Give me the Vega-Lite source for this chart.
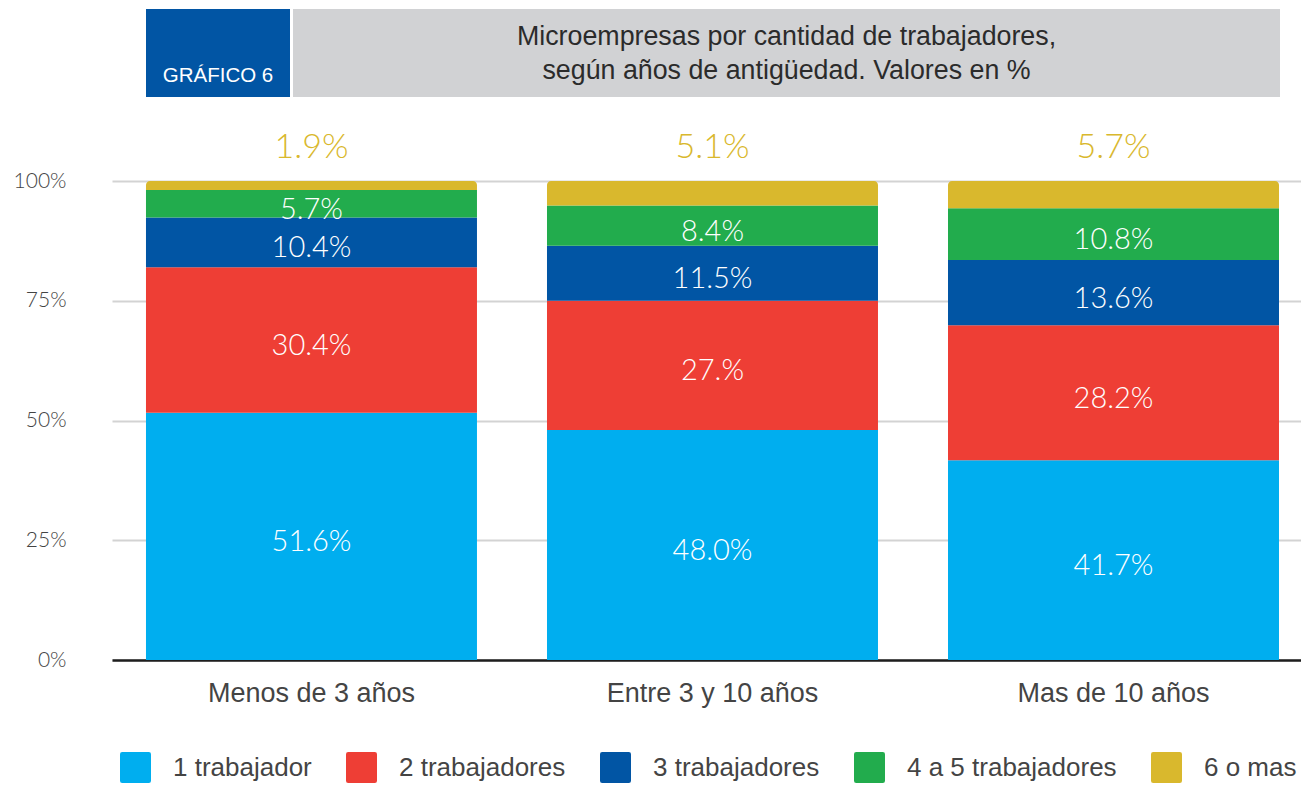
{
  "$schema": "https://vega.github.io/schema/vega-lite/v6.json",
  "background": "white",
  "padding": {"left": 13, "top": 9, "right": 0, "bottom": 0},
  "config": {
    "font": "Liberation Sans",
    "view": {"stroke": null}
  },
  "datasets": {
    "micro": [
      {"antiguedad": "Menos de 3 años", "categoria": "1 trabajador", "orden": 1, "valor": 51.6, "etiqueta": "51.6%"},
      {"antiguedad": "Menos de 3 años", "categoria": "2 trabajadores", "orden": 2, "valor": 30.4, "etiqueta": "30.4%"},
      {"antiguedad": "Menos de 3 años", "categoria": "3 trabajadores", "orden": 3, "valor": 10.4, "etiqueta": "10.4%"},
      {"antiguedad": "Menos de 3 años", "categoria": "4 a 5 trabajadores", "orden": 4, "valor": 5.7, "etiqueta": "5.7%"},
      {"antiguedad": "Menos de 3 años", "categoria": "6 o mas", "orden": 5, "valor": 1.9, "etiqueta": "1.9%"},
      {"antiguedad": "Entre 3 y 10 años", "categoria": "1 trabajador", "orden": 1, "valor": 48.0, "etiqueta": "48.0%"},
      {"antiguedad": "Entre 3 y 10 años", "categoria": "2 trabajadores", "orden": 2, "valor": 27.0, "etiqueta": "27.%"},
      {"antiguedad": "Entre 3 y 10 años", "categoria": "3 trabajadores", "orden": 3, "valor": 11.5, "etiqueta": "11.5%"},
      {"antiguedad": "Entre 3 y 10 años", "categoria": "4 a 5 trabajadores", "orden": 4, "valor": 8.4, "etiqueta": "8.4%"},
      {"antiguedad": "Entre 3 y 10 años", "categoria": "6 o mas", "orden": 5, "valor": 5.1, "etiqueta": "5.1%"},
      {"antiguedad": "Mas de 10 años", "categoria": "1 trabajador", "orden": 1, "valor": 41.7, "etiqueta": "41.7%"},
      {"antiguedad": "Mas de 10 años", "categoria": "2 trabajadores", "orden": 2, "valor": 28.2, "etiqueta": "28.2%"},
      {"antiguedad": "Mas de 10 años", "categoria": "3 trabajadores", "orden": 3, "valor": 13.6, "etiqueta": "13.6%"},
      {"antiguedad": "Mas de 10 años", "categoria": "4 a 5 trabajadores", "orden": 4, "valor": 10.8, "etiqueta": "10.8%"},
      {"antiguedad": "Mas de 10 años", "categoria": "6 o mas", "orden": 5, "valor": 5.7, "etiqueta": "5.7%"}
    ]
  },
  "vconcat": [
    {
      "hconcat": [
        {
          "width": 31, "height": 88,
          "data": {"values": [{"t": ""}]},
          "mark": {"type": "text", "opacity": 0},
          "encoding": {"text": {"field": "t"}}
        },
        {
          "width": 144, "height": 88,
          "view": {"fill": "#0155A4", "stroke": null},
          "data": {"values": [{"t": "GRÁFICO 6"}]},
          "mark": {"type": "text", "color": "white", "fontSize": 20.5, "baseline": "alphabetic", "align": "center", "dy": 29},
          "encoding": {"text": {"field": "t"}}
        },
        {
          "width": 987, "height": 88,
          "view": {"fill": "#D1D2D4", "stroke": null},
          "data": {"values": [{"t": ["Microempresas por cantidad de trabajadores,", "según años de antigüedad. Valores en %"]}]},
          "mark": {"type": "text", "color": "#2b2b2b", "fontSize": 26.8, "baseline": "middle", "align": "center", "lineHeight": 34, "dy": -16},
          "encoding": {"text": {"field": "t"}}
        }
      ],
      "spacing": 3
    },
    {
      "width": 1189,
      "height": 479,
      "data": {"name": "micro"},
      "transform": [
        {"stack": "valor", "groupby": ["antiguedad"], "sort": [{"field": "orden"}], "as": ["v0", "v1"]},
        {"calculate": "(datum.v0 + datum.v1) / 2", "as": "centro"}
      ],
      "encoding": {
        "x": {
          "field": "antiguedad", "type": "nominal",
          "sort": ["Menos de 3 años", "Entre 3 y 10 años", "Mas de 10 años"],
          "scale": {"paddingInner": 0.1746, "paddingOuter": 0.0698, "align": 0.607},
          "axis": {
            "title": null, "labelAngle": 0, "ticks": false,
            "domain": true, "domainColor": "#1e1e1e", "domainWidth": 2.5,
            "labelFont": "Liberation Sans", "labelFontSize": 27, "labelColor": "#444444",
            "labelPadding": 20, "labelLimit": 500
          }
        }
      },
      "layer": [
        {
          "transform": [{"filter": "datum.categoria !== '6 o mas'"}],
          "mark": {"type": "bar"},
          "encoding": {
            "y": {
              "field": "v0", "type": "quantitative",
              "scale": {"domain": [0, 100], "nice": false},
              "axis": {
                "title": null, "values": [0, 25, 50, 75, 100],
                "labelExpr": "datum.value + '%'",
                "ticks": false, "domain": false,
                "grid": true, "gridColor": "#d3d3d3", "gridWidth": 2,
                "labelFont": "Lato", "labelFontWeight": 300, "labelFontSize": 21, "labelColor": "#444444",
                "labelPadding": 46
              }
            },
            "y2": {"field": "v1"},
            "color": {
              "field": "categoria", "type": "nominal",
              "scale": {
                "domain": ["1 trabajador", "2 trabajadores", "3 trabajadores", "4 a 5 trabajadores", "6 o mas"],
                "range": ["#00AEEF", "#EE3E35", "#0155A4", "#22AC4D", "#D9B82D"]
              },
              "legend": {
                "title": null, "orient": "none", "direction": "horizontal",
                "legendX": 8, "legendY": 743, "padding": 0,
                "symbolType": "M-0.86,-1H0.86Q1,-1 1,-0.86V0.86Q1,1 0.86,1H-0.86Q-1,1 -1,0.86V-0.86Q-1,-1 -0.86,-1Z",
                "symbolSize": 961, "symbolStrokeWidth": 0, "symbolOpacity": 1,
                "labelFont": "Liberation Sans", "labelFontSize": 26, "labelColor": "#444444",
                "labelOffset": 22, "columnPadding": 34, "labelLimit": 400
              }
            }
          }
        },
        {
          "transform": [{"filter": "datum.categoria === '6 o mas'"}],
          "mark": {"type": "bar", "cornerRadiusTopLeft": 4, "cornerRadiusTopRight": 4},
          "encoding": {
            "y": {"field": "v0", "type": "quantitative"},
            "y2": {"field": "v1"},
            "color": {"field": "categoria", "type": "nominal"}
          }
        },
        {
          "transform": [{"filter": "datum.categoria !== '6 o mas'"}],
          "mark": {"type": "text", "color": "white", "font": "Lato", "fontWeight": 300, "fontSize": 29, "baseline": "middle", "dy": 6},
          "encoding": {
            "y": {"field": "centro", "type": "quantitative"},
            "text": {"field": "etiqueta"}
          }
        },
        {
          "transform": [{"filter": "datum.categoria === '6 o mas'"}],
          "mark": {"type": "text", "color": "#D9B82D", "font": "Lato", "fontWeight": 300, "fontSize": 34, "baseline": "middle", "dy": -33},
          "encoding": {
            "y": {"datum": 100, "type": "quantitative"},
            "text": {"field": "etiqueta"}
          }
        }
      ]
    }
  ],
  "spacing": 172,
  "bounds": "flush"
}
